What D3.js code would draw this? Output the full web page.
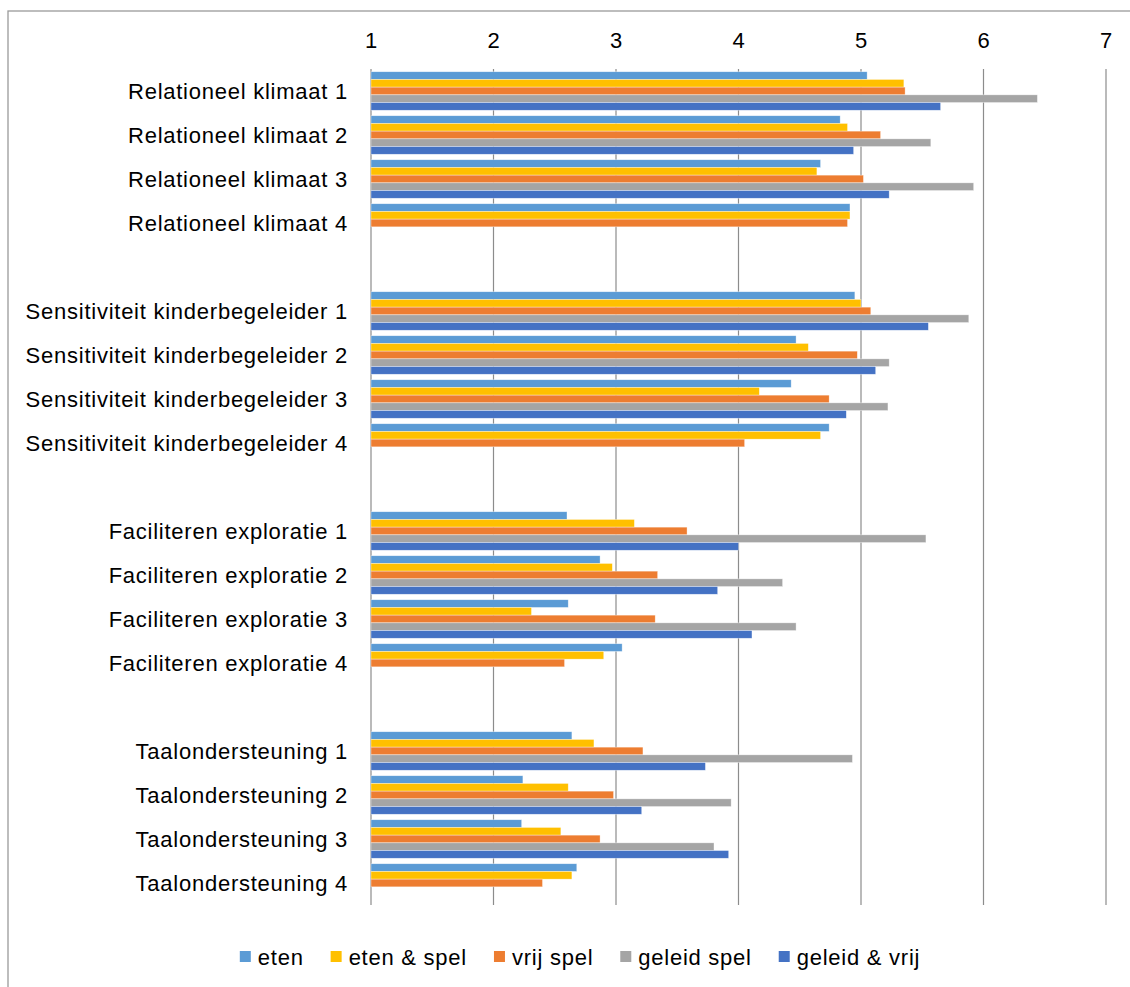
<!DOCTYPE html>
<html>
<head>
<meta charset="utf-8">
<script src="https://cdn.jsdelivr.net/npm/d3@7"></script>
<style>
  body { margin: 0; background: #fff; }
  text { font-family: "Liberation Sans", Arial, sans-serif; fill: #000; }
</style>
</head>
<body>
<div id="chart"></div>
<script>
// categories, "" = empty spacer row between groups
var categories = [
    "Relationeel klimaat 1", "Relationeel klimaat 2", "Relationeel klimaat 3", "Relationeel klimaat 4", "",
    "Sensitiviteit kinderbegeleider 1", "Sensitiviteit kinderbegeleider 2", "Sensitiviteit kinderbegeleider 3", "Sensitiviteit kinderbegeleider 4", "",
    "Faciliteren exploratie 1", "Faciliteren exploratie 2", "Faciliteren exploratie 3", "Faciliteren exploratie 4", "",
    "Taalondersteuning 1", "Taalondersteuning 2", "Taalondersteuning 3", "Taalondersteuning 4"
];

var seriesNames = ["eten", "eten & spel", "vrij spel", "geleid spel", "geleid & vrij"];
var seriesColors = ["#5B9BD5", "#FFC000", "#ED7D31", "#A5A5A5", "#4472C4"];

var eten       = [5.05, 4.83, 4.67, 4.91, null, 4.95, 4.47, 4.43, 4.74, null, 2.60, 2.87, 2.61, 3.05, null, 2.64, 2.24, 2.23, 2.68];
var etenSpel   = [5.35, 4.89, 4.64, 4.91, null, 5.00, 4.57, 4.17, 4.67, null, 3.15, 2.97, 2.31, 2.90, null, 2.82, 2.61, 2.55, 2.64];
var vrijSpel   = [5.36, 5.16, 5.02, 4.89, null, 5.08, 4.97, 4.74, 4.05, null, 3.58, 3.34, 3.32, 2.58, null, 3.22, 2.98, 2.87, 2.40];
var geleidSpel = [6.44, 5.57, 5.92, null, null, 5.88, 5.23, 5.22, null, null, 5.53, 4.36, 4.47, null, null, 4.93, 3.94, 3.80, null];
var geleidVrij = [5.65, 4.94, 5.23, null, null, 5.55, 5.12, 4.88, null, null, 4.00, 3.83, 4.11, null, null, 3.73, 3.21, 3.92, null];

var xTicks = [1, 2, 3, 4, 5, 6, 7];

var allSeries = [eten, etenSpel, vrijSpel, geleidSpel, geleidVrij];

var width = 1130, height = 987;
var plot = {left: 371, right: 1106, top: 69, bottom: 905};

var svg = d3.select("#chart")
    .append("svg")
        .attr("width", width)
        .attr("height", height);

// chart area border (runs off the right and bottom edge)
svg.append("rect")
    .attr("x", 8)
    .attr("y", 11)
    .attr("width", width + 20)
    .attr("height", height + 20)
    .attr("fill", "none")
    .attr("stroke", "#9a9a9a")
    .attr("stroke-width", 1.3);

var x = d3.scaleLinear()
    .domain([1, 7])
    .range([plot.left, plot.right]);

var y = d3.scaleBand()
    .domain(d3.range(categories.length))
    .range([plot.top, plot.bottom])
    .paddingInner(0.125)
    .paddingOuter(0.0625);

var ySub = d3.scaleBand()
    .domain(d3.range(seriesNames.length))
    .range([0, y.bandwidth()]);

// gridlines
svg.append("g")
    .selectAll("line")
    .data(xTicks)
    .enter()
    .append("line")
        .attr("x1", function(d) { return x(d); })
        .attr("x2", function(d) { return x(d); })
        .attr("y1", plot.top)
        .attr("y2", plot.bottom)
        .attr("stroke", "#8c8c8c")
        .attr("stroke-width", 1.2);

// tick labels on top
svg.append("g")
    .selectAll("text")
    .data(xTicks)
    .enter()
    .append("text")
        .attr("x", function(d) { return x(d); })
        .attr("y", 48)
        .attr("text-anchor", "middle")
        .style("font-size", "22px")
        .text(function(d) { return d; });

// bars
seriesNames.forEach(function(name, s) {
    svg.append("g")
        .selectAll("rect")
        .data(allSeries[s].map(function(v, i) { return {i: i, v: v}; })
            .filter(function(d) { return d.v != null; }))
        .enter()
        .append("rect")
            .attr("x", x(1))
            .attr("y", function(d) { return y(d.i) + ySub(s); })
            .attr("width", function(d) { return x(d.v) - x(1); })
            .attr("height", ySub.bandwidth())
            .attr("fill", seriesColors[s])
            .attr("stroke", "#fff")
            .attr("stroke-opacity", 0.6)
            .attr("stroke-width", 0.6);
});

// category labels
svg.append("g")
    .selectAll("text")
    .data(categories)
    .enter()
    .append("text")
        .attr("x", 348)
        .attr("y", function(d, i) { return y(i) + y.bandwidth() / 2; })
        .attr("dy", "0.35em")
        .attr("text-anchor", "end")
        .style("font-size", "22px")
        .style("letter-spacing", "0.75px")
        .text(function(d) { return d; });

// legend
var legend = svg.append("g");
var lx = 0;
seriesNames.forEach(function(name, s) {
    var item = legend.append("g").attr("transform", "translate(" + lx + ",0)");
    item.append("rect")
        .attr("x", 0)
        .attr("y", -6)
        .attr("width", 11)
        .attr("height", 11)
        .attr("fill", seriesColors[s]);
    var t = item.append("text")
        .attr("x", 18)
        .attr("y", 0)
        .attr("dy", "0.35em")
        .style("font-size", "22px")
        .style("letter-spacing", "0.75px")
        .text(name);
    lx += 18 + t.node().getComputedTextLength() + 27;
});
lx -= 27;
legend.attr("transform", "translate(" + (580 - lx / 2) + ",957)");
</script>
</body>
</html>
